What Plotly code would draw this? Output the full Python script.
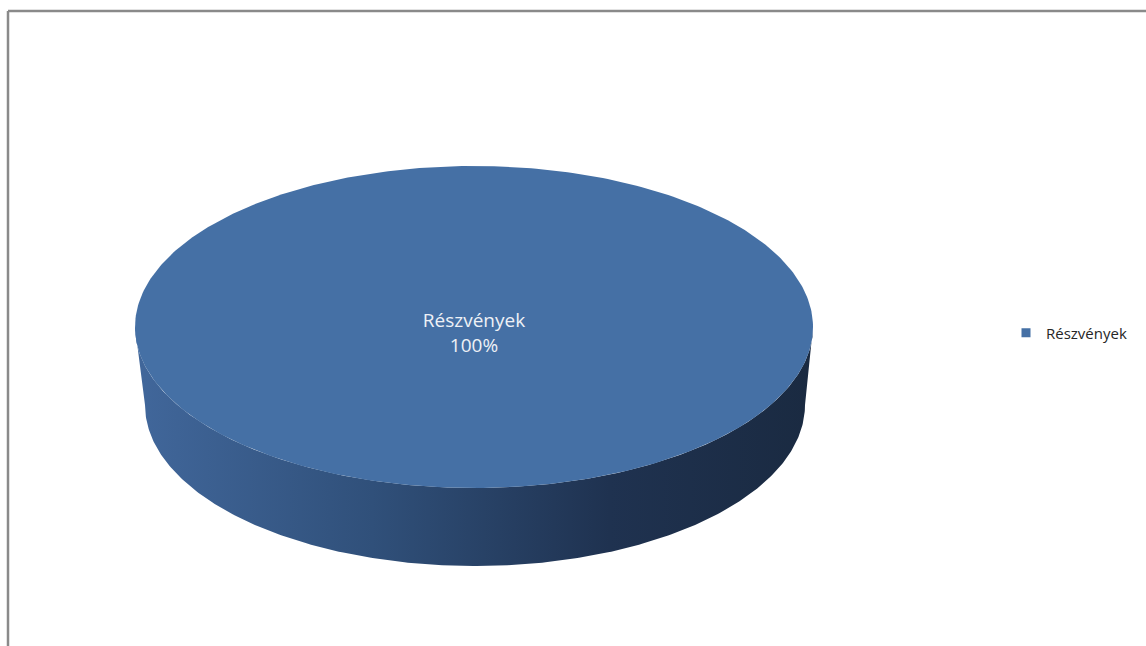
import numpy as np
import plotly.graph_objects as go

# ---- data ----
labels = ["Részvények"]
values = [100]
colors = ["#4570a5"]

W, H = 1146, 646
total = sum(values)
fracs = [v / total for v in values]

# 3D pie geometry (screen-like units, y downward)
cx, cy, rx, ry = 474, 327, 339, 161
bcx, bcy, brx, bry = 475, 405, 330, 161

fig = go.Figure()

start = 0.0
for lab, frac, col in zip(labels, fracs, colors):
    t = np.linspace(start, start + 2 * np.pi * frac, 400)
    # side wall (front lower half)
    ts = np.linspace(0, np.pi, 300)
    sx = np.concatenate([cx + rx * np.cos(ts), bcx + brx * np.cos(ts[::-1])])
    sy = np.concatenate([cy + ry * np.sin(ts), bcy + bry * np.sin(ts[::-1])])
    fig.add_trace(go.Scatter(
        x=sx, y=sy, mode="lines", fill="toself", line=dict(width=0, color="rgba(0,0,0,0)"),
        fillgradient=dict(type="horizontal",
                          colorscale=[[0, "#41679b"], [0.35, "#30507a"], [0.7, "#1f3250"], [1, "#1a2a41"]]),
        showlegend=False, hoverinfo="skip"))
    # top face
    tx = cx + rx * np.cos(t)
    ty = cy + ry * np.sin(t)
    fig.add_trace(go.Scatter(
        x=tx, y=ty, mode="lines", fill="toself", fillcolor=col,
        line=dict(width=0, color=col), showlegend=False, hoverinfo="skip"))
    # data label
    fig.add_trace(go.Scatter(
        x=[cx], y=[cy + 8], mode="text",
        text=[f"{lab}<br>{frac*100:.0f}%"],
        textfont=dict(family="Open Sans", size=19, color="#eef1f6"),
        showlegend=False, hoverinfo="skip"))
    # legend entry
    fig.add_trace(go.Scatter(
        x=[None], y=[None], mode="markers", name=lab,
        marker=dict(symbol="square", size=9, color=col)))
    start += 2 * np.pi * frac

fig.update_layout(
    width=W, height=H,
    margin=dict(l=0, r=0, t=0, b=0),
    paper_bgcolor="white", plot_bgcolor="white",
    xaxis=dict(range=[0, W], visible=False, fixedrange=True),
    yaxis=dict(range=[H, 0], visible=False, fixedrange=True),
    showlegend=True,
    legend=dict(x=1006 / W, y=1 - 333 / H, xanchor="left", yanchor="middle",
                font=dict(family="Open Sans", size=15, color="#262626"),
                itemwidth=30, bgcolor="rgba(0,0,0,0)", borderwidth=0),
    shapes=[
        dict(type="line", xref="x", yref="y", x0=8, y0=11, x1=W, y1=11,
             line=dict(color="#8a8a8a", width=2.5)),
        dict(type="line", xref="x", yref="y", x0=8, y0=11, x1=8, y1=H,
             line=dict(color="#8a8a8a", width=2.5)),
    ],
    hovermode=False,
)

fig.write_html("out.html", config={"displayModeBar": False},
               post_script="document.body.style.margin='0';document.body.style.overflow='hidden';")
